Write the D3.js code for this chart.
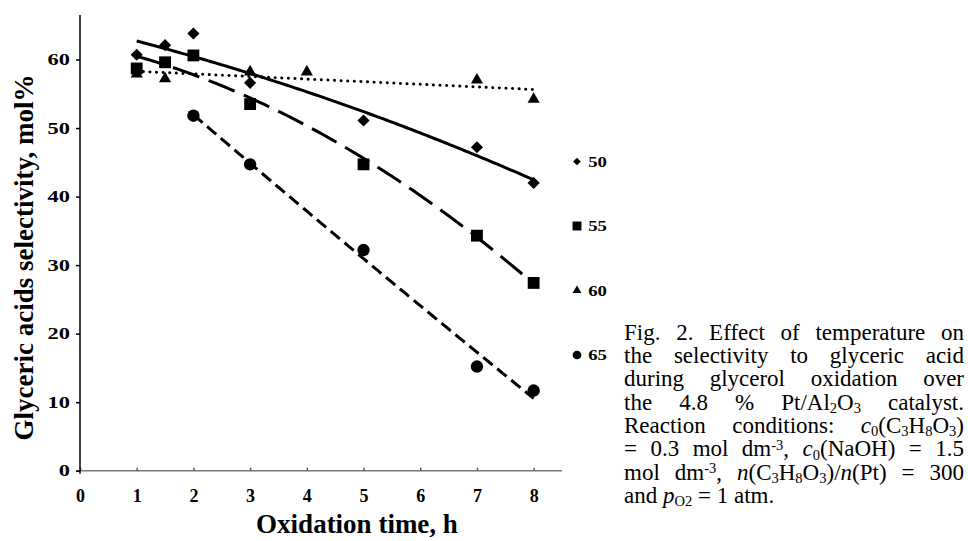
<!DOCTYPE html>
<html>
<head>
<meta charset="utf-8">
<script src="https://cdn.jsdelivr.net/npm/d3@7"></script>
<style>
  body { margin: 0; background: #fff; }
  svg { display: block; font-family: "Liberation Serif", "Times New Roman", serif; }
</style>
</head>
<body>
<div id="chart"></div>
<script>
// measured values (selectivity, mol%) per temperature
var temps = ['50', '55', '60', '65'];
var hours50 = [1, 1.5, 2, 3, 5, 7, 8];
var sel50 = [60.7, 62.1, 63.8, 56.6, 51.1, 47.2, 42.0];
var hours55 = [1, 1.5, 2, 3, 5, 7, 8];
var sel55 = [58.7, 59.6, 60.6, 53.5, 44.7, 34.3, 27.4];
var hours60 = [1, 1.5, 3, 4, 7, 8];
var sel60 = [57.9, 57.2, 58.2, 58.2, 57.0, 54.2];
var hours65 = [2, 3, 5, 7, 8];
var sel65 = [51.8, 44.7, 32.2, 15.2, 11.7];
var xTicks = [0, 1, 2, 3, 4, 5, 6, 7, 8];
var yTicks = [0, 10, 20, 30, 40, 50, 60];

var captionLines = [
  "Fig. 2. Effect of temperature on",
  "the selectivity to glyceric acid",
  "during glycerol oxidation over",
  "the 4.8 % Pt/Al<sub>2</sub>O<sub>3</sub> catalyst.",
  "Reaction conditions: <i>c</i><sub>0</sub>(C<sub>3</sub>H<sub>8</sub>O<sub>3</sub>)",
  "= 0.3 mol dm<sup>-3</sup>, <i>c</i><sub>0</sub>(NaOH) = 1.5",
  "mol dm<sup>-3</sup>, <i>n</i>(C<sub>3</sub>H<sub>8</sub>O<sub>3</sub>)/<i>n</i>(Pt) = 300",
  "and <i>p</i><sub>O2</sub> = 1 atm."
];

var series = [
  {name: temps[0], hours: hours50, sel: sel50, symbol: 'diamond', dash: null, order: 2},
  {name: temps[1], hours: hours55, sel: sel55, symbol: 'square', dash: "28,10", order: 2},
  {name: temps[2], hours: hours60, sel: sel60, symbol: 'triangle', dash: "0.1,6.5", order: 1},
  {name: temps[3], hours: hours65, sel: sel65, symbol: 'circle', dash: "12,6", order: 2}
];

var svg = d3.select('#chart').append('svg').attr('width', 968).attr('height', 541);

var x = d3.scaleLinear().domain([0, 8.5]).range([80, 562]);
var y = d3.scaleLinear().domain([0, 66.5]).range([470.7, 15]);

// excel style polynomial trendline (least squares)
function polyFit(xs, ys, order) {
  var n = order + 1, A = [], i, j, k;
  for (i = 0; i < n; i++) {
    A.push([]);
    for (j = 0; j < n; j++) A[i].push(d3.sum(xs, function(v) { return Math.pow(v, i + j); }));
    A[i].push(d3.sum(xs, function(v, m) { return Math.pow(v, i) * ys[m]; }));
  }
  for (i = 0; i < n; i++) {
    for (k = i + 1; k < n; k++) {
      var f = A[k][i] / A[i][i];
      for (j = i; j <= n; j++) A[k][j] -= f * A[i][j];
    }
  }
  var c = new Array(n).fill(0);
  for (i = n - 1; i >= 0; i--) {
    var s = A[i][n];
    for (j = i + 1; j < n; j++) s -= A[i][j] * c[j];
    c[i] = s / A[i][i];
  }
  return function(v) { return d3.sum(c, function(cc, p) { return cc * Math.pow(v, p); }); };
}

function symbolPath(type, size) {
  if (type == 'diamond') return d3.symbol().type(d3.symbolSquare).size(size)();
  if (type == 'square') return d3.symbol().type(d3.symbolSquare).size(size)();
  if (type == 'triangle') return d3.symbol().type(d3.symbolTriangle).size(size)();
  return d3.symbol().type(d3.symbolCircle).size(size)();
}
var markSize = {diamond: 74, square: 140, triangle: 64, circle: 120};
var legSize = {diamond: 30, square: 80, triangle: 34, circle: 60};

// axes
var xAxis = svg.append('g').attr('transform', 'translate(0,' + y(0) + ')')
  .call(d3.axisBottom(x).tickValues(xTicks).tickSizeInner(-3).tickSizeOuter(0).tickPadding(19).tickFormat(d3.format('d')));
xAxis.select('.domain').attr('stroke', '#777').attr('stroke-width', 1.5).attr('d', 'M76,0H' + x(8.5));
xAxis.selectAll('.tick line').attr('stroke', '#555').attr('stroke-width', 1.5);
xAxis.selectAll('text').style('font-size', '18px').style('font-weight', 'bold').style('font-family', '"Liberation Serif", serif').attr('fill', '#000');

var yAxis = svg.append('g').attr('transform', 'translate(' + x(0) + ',0)')
  .call(d3.axisLeft(y).tickValues(yTicks).tickSize(4).tickSizeOuter(0).tickFormat(d3.format('d')));
yAxis.select('.domain').attr('stroke', '#000').attr('stroke-width', 1.5).attr('d', 'M0,15V' + (y(0) + 3));
yAxis.selectAll('.tick line').attr('stroke', '#000').attr('stroke-width', 1.5);
yAxis.selectAll('text').style('font-size', '16px').style('font-weight', 'bold').style('font-family', '"Liberation Serif", serif').attr('fill', '#000')
  .attr('x', -7.2).attr('transform', 'scale(1.4,1)');

// axis titles
svg.append('text').attr('x', 357).attr('y', 533).attr('text-anchor', 'middle')
  .style('font-size', '27px').style('font-weight', 'bold').text('Oxidation time, h');
svg.append('text').attr('transform', 'translate(33,257.5) rotate(-90)').attr('text-anchor', 'middle')
  .style('font-size', '27px').style('font-weight', 'bold').text('Glyceric acids selectivity, mol%');

// markers then trendlines
series.forEach(function(s) {
  var pts = s.hours.map(function(h, i) { return [h, s.sel[i]]; });
  svg.append('g').selectAll('path').data(pts).enter().append('path')
    .attr('d', symbolPath(s.symbol, markSize[s.symbol]))
    .attr('transform', function(d) { return 'translate(' + x(d[0]) + ',' + y(d[1]) + ')' + (s.symbol == 'diamond' ? ' rotate(45)' : ''); })
    .attr('fill', '#000');
});

series.forEach(function(s) {
  var fit = polyFit(s.hours, s.sel, s.order);
  var xs = d3.range(d3.min(s.hours), d3.max(s.hours) + 0.001, 0.05);
  svg.append('path').datum(xs)
    .attr('d', d3.line().x(function(d) { return x(d); }).y(function(d) { return y(fit(d)); }))
    .attr('fill', 'none').attr('stroke', '#000').attr('stroke-width', 3)
    .attr('stroke-dasharray', s.dash)
    .attr('stroke-linecap', s.symbol == 'triangle' ? 'round' : 'butt');
});

// legend
var leg = svg.append('g').selectAll('g').data(series).enter().append('g')
  .attr('transform', function(d, i) { return 'translate(577,' + (161.5 + i * 64.5) + ')'; });
leg.append('path')
  .attr('d', function(d) { return symbolPath(d.symbol, legSize[d.symbol]); })
  .attr('transform', function(d) { return d.symbol == 'diamond' ? 'rotate(45)' : null; })
  .attr('fill', '#000');
leg.append('text').attr('x', 9).attr('dy', '0.34em')
  .attr('transform', 'scale(1.25,1)')
  .style('font-size', '15px').style('font-weight', 'bold')
  .text(function(d) { return d.name; });

// caption, justified between 624 and 964
function parseWords(str) {
  var re = /<(i|sub|sup)>(.*?)<\/\1>|([^<]+)/g, m, segs = [];
  while ((m = re.exec(str)) !== null) {
    if (m[3] !== undefined) segs.push({t: m[3], k: 'n'});
    else segs.push({t: m[2], k: m[1]});
  }
  var words = [[]];
  segs.forEach(function(sg) {
    var parts = sg.t.split(' ');
    parts.forEach(function(p, pi) {
      if (pi > 0) words.push([]);
      if (p.length) words[words.length - 1].push({t: p, k: sg.k});
    });
  });
  return words.filter(function(w) { return w.length; });
}

var capLeft = 624, capRight = 964, capFont = 23;
var cap = svg.append('g').style('font-size', capFont + 'px');
captionLines.forEach(function(line, li) {
  var base = 339.5 + li * 23.35;
  var words = parseWords(line);
  var nodes = words.map(function(w) {
    var t = cap.append('text').attr('y', base);
    var shift = 0;
    w.forEach(function(sg) {
      var target = sg.k == 'sub' ? 3.5 : (sg.k == 'sup' ? -6.5 : 0);
      t.append('tspan').text(sg.t)
        .attr('dy', target - shift)
        .style('font-style', sg.k == 'i' ? 'italic' : null)
        .style('font-size', (sg.k == 'sub' || sg.k == 'sup') ? '14.5px' : null);
      shift = target;
    });
    return t;
  });
  var widths = nodes.map(function(t) { return t.node().getComputedTextLength(); });
  var total = d3.sum(widths);
  var gap = li < captionLines.length - 1 ? (capRight - capLeft - total) / (nodes.length - 1) : capFont * 0.25;
  var pos = capLeft;
  nodes.forEach(function(t, i) { t.attr('x', pos); pos += widths[i] + gap; });
});
</script>
</body>
</html>
